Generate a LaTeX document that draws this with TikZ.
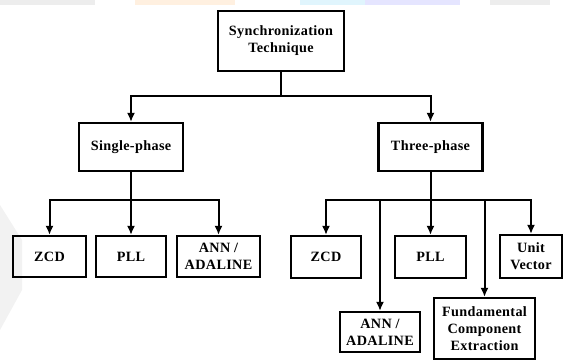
\documentclass[tikz,border=0pt]{standalone}
\usepackage{fontspec}
\setmainfont[LetterSpace=2.5]{Liberation Serif}
\usepackage{tikz}
\usetikzlibrary{arrows.meta,positioning}

\begin{document}
\begin{tikzpicture}[x=1pt,y=-1pt]
% styles des blocs et des fleches
\tikzset{bloc/.style={draw,line width=2.2pt,inner sep=0pt,align=center,
  font=\fontsize{14.2}{17}\selectfont\bfseries},
  fleche/.style={line width=2pt,-{Latex[length=9pt,width=8pt]}},
  trait/.style={line width=2pt}}
\useasboundingbox (0,0) rectangle (563,361);
% filigrane en haut
\fill[black!7] (0,0) rectangle (95,5);
\fill[orange!12] (135,0) rectangle (235,5);
\fill[cyan!12] (300,0) rectangle (365,5);
\fill[blue!10] (365,0) rectangle (460,5);
\fill[black!7] (490,0) rectangle (550,5);
\fill[black!5] (0,205) -- (22,240) -- (22,290) -- (0,330) -- cycle;
% niveau 0
\node[bloc,minimum width=126pt,minimum height=60pt] (sync) at (281,41) {Synchronization\\Technique};
% niveau 1
\node[bloc,minimum width=104pt,minimum height=48pt] (single) at (131,147) {Single-phase};
\node[bloc,minimum width=104pt,minimum height=48pt] (three) at (430.5,147) {Three-phase};
% niveau 2 : monophase
\node[bloc,minimum width=73pt,minimum height=41pt] (zcdA) at (49.5,256.5) {ZCD};
\node[bloc,minimum width=70pt,minimum height=41pt] (pllA) at (131,256.5) {PLL};
\node[bloc,minimum width=83pt,minimum height=41pt] (annA) at (218.5,256.5) {ANN /\\ADALINE};
% niveau 2 : triphase
\node[bloc,minimum width=70pt,minimum height=42pt] (zcdB) at (326,257) {ZCD};
\node[bloc,minimum width=71pt,minimum height=42pt] (pllB) at (430.5,257) {PLL};
\node[bloc,minimum width=62pt,minimum height=43pt] (unit) at (531,256.5) {Unit\\Vector};
\node[bloc,minimum width=80pt,minimum height=40pt] (annB) at (380,332) {ANN /\\ADALINE};
\node[bloc,minimum width=101pt,minimum height=61pt] (fund) at (484.5,328.5) {Fundamental\\Component\\Extraction};
% liaisons
\draw[trait] (sync.south) -- ++(0,24) coordinate (b0);
\draw[fleche] (b0) -| (single.north);
\draw[fleche] (b0) -| (three.north);
\draw[trait] (single.south) -- ++(0,28) coordinate (b1);
\foreach \n in {zcdA,pllA,annA} \draw[fleche] (b1) -| (\n.north);
\draw[trait] (three.south) -- ++(0,28) coordinate (b2);
\foreach \n in {zcdB,annB,pllB,fund,unit} \draw[fleche] (b2) -| (\n.north);
\end{tikzpicture}
\end{document}
